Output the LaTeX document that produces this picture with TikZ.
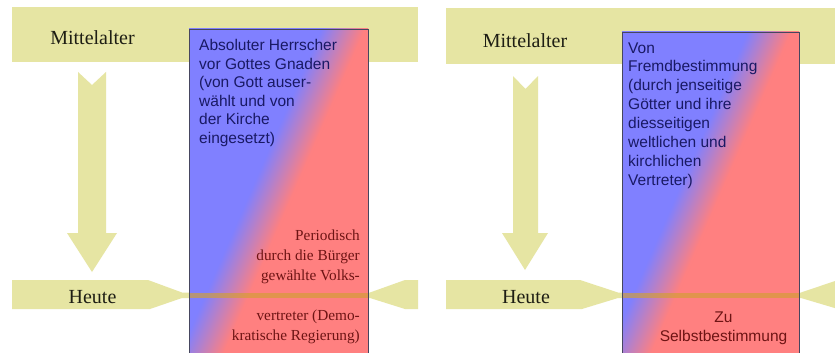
\documentclass[tikz,border=0pt]{standalone}
\usepackage{fontspec}
\setmainfont{Liberation Serif}
\newfontfamily\arialf{Liberation Sans}
\usetikzlibrary{calc}
\definecolor{bandcol}{RGB}{230,229,163}
\definecolor{bxblue}{RGB}{128,128,255}
\definecolor{bxred}{RGB}{255,128,128}
\definecolor{bxborder}{RGB}{70,70,95}
\definecolor{linecol}{RGB}{210,160,50}
\definecolor{navytxt}{RGB}{25,25,100}
\definecolor{redtxt}{RGB}{110,20,20}
\definecolor{darktxt}{RGB}{30,30,20}

\newcommand\gradfill[2]{%
 \fill[bxblue] ({#1-300*0.918-160},{#2-300*0.398+367}) -- ({#1-300*0.918+160},{#2-300*0.398-367}) -- ({#1-17*0.918+160},{#2-17*0.398-367}) -- ({#1-17*0.918-160},{#2-17*0.398+367}) -- cycle;
 \fill[bxred] ({#1+300*0.918-160},{#2+300*0.398+367}) -- ({#1+300*0.918+160},{#2+300*0.398-367}) -- ({#1+17*0.918+160},{#2+17*0.398-367}) -- ({#1+17*0.918-160},{#2+17*0.398+367}) -- cycle;
 \foreach \i in {0,...,39}{%
   \pgfmathsetmacro\ta{-20+\i}%
   \pgfmathsetmacro\tb{\ta+2}%
   \pgfmathtruncatemacro\mx{100-(\i+0.5)*100/40}%
   \fill[bxblue!\mx!bxred] ({#1+(\ta)*0.918-160},{#2+(\ta)*0.398+367}) -- ({#1+(\ta)*0.918+160},{#2+(\ta)*0.398-367}) -- ({#1+(\tb)*0.918+160},{#2+(\tb)*0.398-367}) -- ({#1+(\tb)*0.918-160},{#2+(\tb)*0.398+367}) -- cycle;
 }%
}

\begin{document}
\begin{tikzpicture}[x=1pt,y=-1pt,
  bandbox/.style={fill=bandcol, draw=none, inner sep=0, outer sep=0, anchor=north west},
  era/.style={font=\fontsize{20}{24}\selectfont, text=darktxt, inner sep=0, anchor=base},
  boxframe/.style={draw=bxborder, line width=0.9pt},
  boxarea/.style={inner sep=0, outer sep=0, anchor=north west},
  toptext/.style={inner sep=0, anchor=base west, text=navytxt},
  lowtext/.style={inner sep=0, text=redtxt},
  heuteline/.style={fill=linecol, opacity=0.65}
]
\fill[white] (0,0) rectangle (835,353);
\useasboundingbox (0,0) rectangle (835,353);
\clip (0,0) rectangle (835,353);

% ---------- left panel ----------
\node[bandbox, minimum width=406pt, minimum height=55pt] (topL) at (12,7) {};
\node[era] (mL) at (92.5,45) {Mittelalter};
\fill[bandcol] (78,72) -- (92,85) -- (106,72) -- (106,233) -- (117,233) -- (92,272) -- (67,233) -- (78,233) -- cycle;
\fill[bandcol] (12,280) -- (148,280) -- (182,292.5) -- (370,292.5) -- (405,280) -- (418,280) -- (418,309) -- (405,309) -- (370,298) -- (182,298) -- (150,309) -- (12,309) -- cycle;
\node[era] (hL) at (92.5,303) {Heute};

\node[boxarea, minimum width=179pt, minimum height=331pt] (boxL) at (189,29) {};
\begin{scope}
  \clip (boxL.north west) rectangle (boxL.south east);
  \gradfill{273}{191.5}
\end{scope}
\fill[heuteline] (boxL.west |- 0,292.5) rectangle (boxL.east |- 0,298);
\draw[boxframe] (boxL.north west) rectangle (boxL.south east);

\node[toptext] (tL) at (199,50.7) {\parbox[t]{165pt}{\arialf\fontsize{15.5}{18.5}\selectfont\raggedright Absoluter Herrscher\\vor Gottes Gnaden\\(von Gott auser-\\wählt und von\\der Kirche\\eingesetzt)}};
\node[lowtext, anchor=base east] (bL) at (360,240) {\parbox[t]{175pt}{\fontsize{15.3}{20}\selectfont\raggedleft Periodisch\\durch die Bürger\\gewählte Volks-\\[20pt]vertreter (Demo-\\kratische Regierung)}};

% ---------- right panel ----------
\node[bandbox, minimum width=400pt, minimum height=56pt] (topR) at (446,8) {};
\node[era] (mR) at (525,48) {Mittelalter};
\fill[bandcol] (513,76) -- (525.5,89) -- (538,76) -- (538,233) -- (548,233) -- (525,270) -- (502,233) -- (513,233) -- cycle;
\fill[bandcol] (446,280) -- (580,280) -- (618,292.5) -- (801,292.5) -- (838,280) -- (850,280) -- (850,309) -- (838,309) -- (801,298) -- (618,298) -- (582,309) -- (446,309) -- cycle;
\node[era] (hR) at (526,303) {Heute};

\node[boxarea, minimum width=177pt, minimum height=330pt] (boxR) at (622,32) {};
\begin{scope}
  \clip (boxR.north west) rectangle (boxR.south east);
  \gradfill{700}{192.5}
\end{scope}
\fill[heuteline] (boxR.west |- 0,292.5) rectangle (boxR.east |- 0,298);
\draw[boxframe] (boxR.north west) rectangle (boxR.south east);

\node[toptext] (tR) at (628,53) {\parbox[t]{165pt}{\arialf\fontsize{15.5}{18.9}\selectfont\raggedright Von\\Fremdbestimmung\\(durch jenseitige\\Götter und ihre\\diesseitigen\\weltlichen und\\kirchlichen\\Vertreter)}};
\node[lowtext, anchor=base] (bR) at (723.5,322) {\parbox[t]{175pt}{\arialf\fontsize{15.5}{19.5}\selectfont\centering Zu\\Selbstbestimmung}};
\end{tikzpicture}
\end{document}
